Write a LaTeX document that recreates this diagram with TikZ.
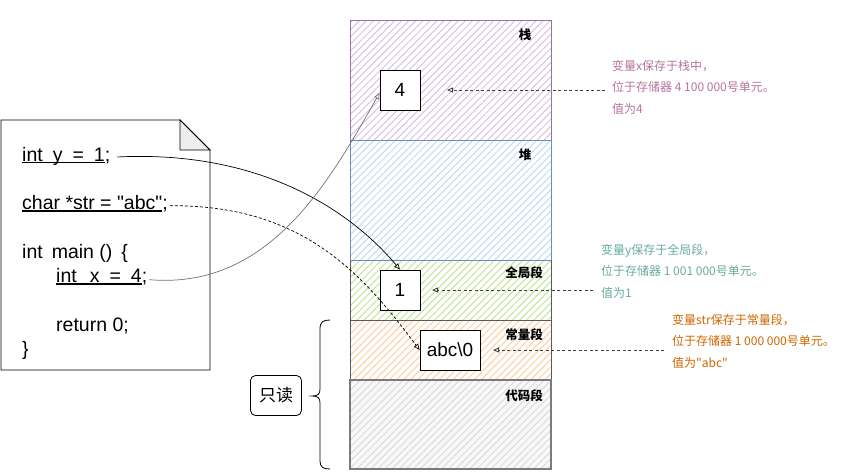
\documentclass[tikz,border=0pt]{standalone}
\usepackage{fontspec}
\setmainfont{Liberation Sans}
\newfontfamily\cjk{Noto Sans CJK SC}
\usetikzlibrary{arrows.meta,patterns.meta}
\definecolor{stkline}{HTML}{9673A6}
\definecolor{stkfill}{HTML}{D6C4E0}
\definecolor{heapline}{HTML}{6C8EBF}
\definecolor{heapfill}{HTML}{C4D9F4}
\definecolor{globfill}{HTML}{C4E596}
\definecolor{constfill}{HTML}{FFCFA2}
\definecolor{codefill}{HTML}{DCDCDC}
\definecolor{codebg}{HTML}{F8F8F8}
\definecolor{segdark}{HTML}{5A5A5A}
\definecolor{annstk}{HTML}{B5739D}
\definecolor{annglob}{HTML}{67AB9F}
\definecolor{annconst}{HTML}{CC6600}
\definecolor{foldgray}{HTML}{EEEEEE}
\newcommand\codeul[1]{\setbox0\hbox{#1}\rlap{\rule[-2.3pt]{\wd0}{1.5pt}}\box0}
\begin{document}
\begin{tikzpicture}[x=1pt,y=-1pt,
  seg/.style={pattern={Lines[angle=45,distance=5pt,line width=1pt]}},
  seglabel/.style={font=\cjk\bfseries\fontsize{12.5}{14}\selectfont,inner sep=0pt},
  code/.style={anchor=base west,inner sep=0pt,font=\fontsize{19.5}{23}\selectfont},
  valbox/.style={draw=black,fill=white,line width=0.8pt,inner sep=0pt,font=\fontsize{19}{22}\selectfont},
  ann/.style={anchor=north west,inner sep=0pt,align=left,font=\cjk\fontsize{12}{21.5}\selectfont},
  annarrow/.style={draw=black!75,dashed,dash pattern=on 3pt off 2.5pt,line width=0.8pt,-{Triangle[open,length=6pt,width=5pt]}},
  link/.style={line width=0.7pt,-{Triangle[open,length=6pt,width=5pt]}}
]
\useasboundingbox (0,0) rectangle (841,472);
% memory segments
\fill[white] (350,20) rectangle (551,380);
\fill[codebg] (350,380) rectangle (551,469);
\path[seg,pattern color=stkfill] (350,20) rectangle (551,140);
\draw[stkline,line width=0.8pt] (350,20) rectangle (551,140);
\path[seg,pattern color=heapfill] (350,140) rectangle (551,260);
\draw[heapline,line width=0.8pt] (350,140) rectangle (551,260);
\path[seg,pattern color=globfill] (350,260) rectangle (551,320);
\draw[segdark,line width=0.9pt] (350,260) rectangle (551,320);
\path[seg,pattern color=constfill] (350,320) rectangle (551,380);
\draw[segdark,line width=0.9pt] (350,320) rectangle (551,380);
\path[seg,pattern color=codefill] (350,380) rectangle (551,469);
\draw[segdark!80,line width=1.3pt] (350,380) rectangle (551,469);
\draw[heapline,line width=0.8pt] (350,260) -- (551,260);
\node[seglabel] (lstk) at (525,35) {栈};
\node[seglabel] (lheap) at (525,155) {堆};
\node[seglabel] (lglob) at (524,273) {全局段};
\node[seglabel] (lconst) at (524,335) {常量段};
\node[seglabel] (lcode) at (524,396) {代码段};
% value boxes
\node[valbox,minimum width=40pt,minimum height=40pt] (b4) at (400,90) {4};
\node[valbox,minimum width=40pt,minimum height=40pt] (b1) at (400,290) {1};
\node[valbox,minimum width=60pt,minimum height=40pt] (babc) at (450,350) {abc\textbackslash 0};
% document
\draw[line width=0.8pt,fill=white] (1,120) -- (180,120) -- (210,150) -- (210,370) -- (1,370) -- cycle;
\draw[line width=0.8pt,fill=foldgray] (180,120) -- (210,150) -- (180,150) -- cycle;
\node[code] (l1) at (22,161) {\codeul{int\hspace{10pt}y\hspace{10pt}=\hspace{10pt}1};};
\node[code] (l2) at (22,209.5) {\codeul{char *str = \textquotedbl abc\textquotedbl};};
\node[code] (l3) at (22,258) {int\hspace{9pt}main ()\hspace{9pt}\{};
\node[code] (l4) at (56,282.5) {\codeul{int\hspace{13pt}x\hspace{10pt}=\hspace{10pt}4};};
\node[code] (l5) at (56,331) {return 0;};
\node[code] (l6) at (22,355.5) {\}};
% links from code to memory
\draw[link,black] ([xshift=7pt,yshift=-1pt]l1.east) .. controls (260,150) and (350,210) .. (b1.north);
\draw[link,black,dashed,dash pattern=on 3pt off 2pt] ([xshift=2pt,yshift=-2pt]l2.east) .. controls (300,205) and (360,270) .. (babc.west);
\draw[link,black!55] ([xshift=2pt,yshift=-3pt]l4.east) .. controls (270,290) and (330,180) .. ([yshift=-3pt]b4.west);
% annotations
\node[ann,text=annstk] (astk) at (612,60) {变量x保存于栈中，\\位于存储器 4 100 000号单元。\\值为4};
\node[ann,text=annglob] (aglob) at (601,244) {变量y保存于全局段，\\位于存储器 1 001 000号单元。\\值为1};
\node[ann,text=annconst] (aconst) at (672,314) {变量str保存于常量段，\\位于存储器 1 000 000号单元。\\值为\textquotedbl abc\textquotedbl};
\coordinate (sa) at (605,90);
\coordinate (sb) at (447,90);
\coordinate (ga) at (593,290);
\coordinate (gb) at (432,290);
\coordinate (ca) at (664,350);
\coordinate (cb) at (493,350);
\draw[annarrow] (sa) -- (sb);
\draw[annarrow] (ga) -- (gb);
\draw[annarrow] (ca) -- (cb);
% read-only brace
\node[draw,rounded corners=5pt,line width=0.8pt,minimum width=51pt,minimum height=40pt,inner sep=0pt,font=\cjk\fontsize{17}{20}\selectfont] (ro) at (276,395.5) {只读};
\draw[line width=0.8pt] (330,320) .. controls (323,320) and (320,322) .. (320,329) -- (320,389) .. controls (320,394) and (318,396) .. (312,396) .. controls (318,396) and (320,398) .. (320,403) -- (320,461) .. controls (320,467) and (323,469) .. (330,469);
\end{tikzpicture}
\end{document}
